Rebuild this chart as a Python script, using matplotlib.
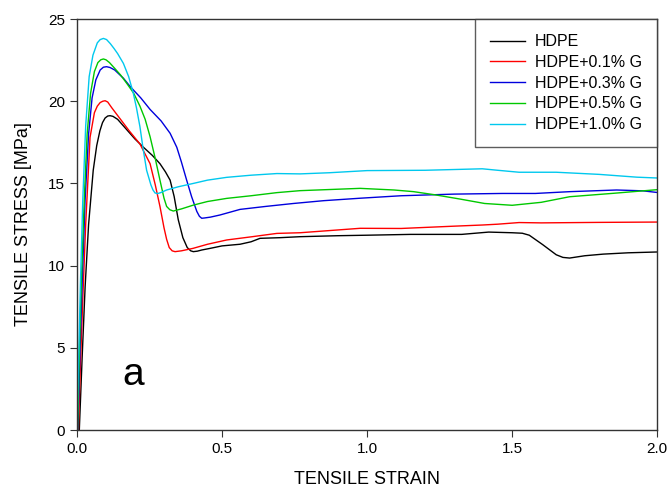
import matplotlib
matplotlib.use("Agg")
import matplotlib.pyplot as plt

# --------------------------------------------------
# Data
# --------------------------------------------------

hdpe_strain = [0.008, 0.018, 0.028, 0.04, 0.056, 0.068, 0.079, 0.088, 0.097, 0.106,
               0.114, 0.124, 0.14, 0.17,
               0.2, 0.229, 0.26, 0.286, 0.305, 0.321, 0.335, 0.349, 0.365, 0.38,
               0.392, 0.401, 0.415, 0.43, 0.459, 0.5, 0.562, 0.6, 0.631, 0.7, 0.769, 0.9, 1.0,
               1.15, 1.326, 1.419, 1.5, 1.535, 1.559, 1.605, 1.652, 1.675, 1.698, 1.75,
               1.814, 1.9, 2.0]
hdpe_stress = [0, 4.5, 8.7, 12.5, 15.8, 17.3, 18.2, 18.7, 18.98, 19.1,
               19.12, 19.08, 18.9, 18.3,
               17.7, 17.2, 16.7, 16.2, 15.7, 15.2, 14.2, 12.8, 11.7, 11.1,
               10.9, 10.85, 10.88, 10.95, 11.05, 11.2, 11.3, 11.45, 11.66, 11.7, 11.76, 11.82, 11.85,
               11.9, 11.9, 12.04, 12.0, 11.97, 11.85, 11.28, 10.66, 10.5, 10.46, 10.6,
               10.7, 10.78, 10.83]

g01_strain = [0.005, 0.012, 0.02, 0.03, 0.045, 0.06, 0.07, 0.08, 0.089, 0.097, 0.106,
              0.12, 0.15, 0.18, 0.217, 0.252, 0.27, 0.286, 0.3, 0.309, 0.318, 0.328,
              0.338, 0.36, 0.4, 0.45, 0.516, 0.6, 0.689, 0.769, 0.976, 1.117, 1.3,
              1.397, 1.45, 1.524, 1.6, 1.8, 2.0]
g01_stress = [0, 4, 8, 12.5, 17.8, 19.3, 19.7, 19.92, 20.0, 20.03, 19.95,
              19.6, 18.9, 18.2, 17.4, 16.2, 14.9, 13.6, 12.3, 11.6, 11.1, 10.9,
              10.85, 10.9, 11.05, 11.3, 11.56, 11.75, 11.96, 12.0, 12.27, 12.26, 12.4,
              12.47, 12.52, 12.62, 12.6, 12.63, 12.65]

g03_strain = [0.003, 0.01, 0.018, 0.028, 0.04, 0.052, 0.065, 0.08, 0.091, 0.102,
              0.114, 0.13, 0.16, 0.183, 0.22, 0.252, 0.29, 0.321, 0.344, 0.36,
              0.378, 0.395, 0.413, 0.422, 0.43, 0.44, 0.46, 0.493, 0.562, 0.65,
              0.746, 0.85, 0.976, 1.117, 1.3, 1.466, 1.58, 1.7, 1.86, 1.95, 2.0]
g03_stress = [0, 4.5, 9, 14, 18, 20.2, 21.3, 21.9, 22.07, 22.1,
              22.05, 21.9, 21.4, 20.9, 20.2, 19.5, 18.8, 18.05, 17.2, 16.3,
              15.2, 14.2, 13.3, 13.0, 12.88, 12.9, 12.95, 13.08, 13.42, 13.6,
              13.78, 13.95, 14.1, 14.25, 14.35, 14.39, 14.39, 14.5, 14.6, 14.55, 14.45]

g05_strain = [0.002, 0.008, 0.015, 0.025, 0.035, 0.047, 0.06, 0.072, 0.082, 0.091,
              0.1, 0.112, 0.13, 0.15, 0.171, 0.195, 0.217, 0.235, 0.252, 0.27,
              0.286, 0.3, 0.309, 0.32, 0.332, 0.36, 0.401, 0.45, 0.516, 0.6,
              0.689, 0.769, 0.976, 1.093, 1.16, 1.233, 1.32, 1.405, 1.5, 1.6,
              1.698, 1.85, 2.0]
g05_stress = [0, 4.5, 9, 14, 18, 20.5, 21.8, 22.35, 22.52, 22.57,
              22.52, 22.35, 22.0, 21.6, 21.1, 20.5, 19.7, 18.9, 17.84, 16.5,
              15.2, 14.1, 13.6, 13.4, 13.32, 13.45, 13.68, 13.9, 14.09, 14.25,
              14.44, 14.56, 14.7, 14.6, 14.5, 14.31, 14.05, 13.78, 13.67, 13.85,
              14.19, 14.4, 14.62]

g10_strain = [0.0, 0.006, 0.012, 0.02, 0.03, 0.042, 0.055, 0.07, 0.08, 0.091,
              0.102, 0.115, 0.128, 0.14, 0.16, 0.178, 0.194, 0.205, 0.217, 0.228,
              0.24, 0.255, 0.262, 0.269, 0.278, 0.29, 0.309, 0.35, 0.401, 0.45,
              0.516, 0.6, 0.689, 0.769, 0.87, 1.0, 1.2, 1.397, 1.45, 1.524,
              1.652, 1.8, 1.93, 2.0]
g10_stress = [0, 4.5, 9, 14, 18.5, 21.5, 22.8, 23.55, 23.75, 23.82,
              23.75, 23.5, 23.2, 22.9, 22.3, 21.5, 20.5, 19.6, 18.45, 17.1,
              15.8, 14.9, 14.6, 14.42, 14.38, 14.45, 14.6, 14.8, 15.0, 15.2,
              15.37, 15.5, 15.6, 15.58, 15.65, 15.78, 15.8, 15.89, 15.8, 15.68,
              15.68, 15.55, 15.38, 15.33]

labels = ["HDPE", "HDPE+0.1% G", "HDPE+0.3% G", "HDPE+0.5% G", "HDPE+1.0% G"]
colors = ["#000000", "#ff0000", "#0000dd", "#00c800", "#00c8ee"]

x_ticks = [0.0, 0.5, 1.0, 1.5, 2.0]
y_ticks = [0, 5, 10, 15, 20, 25]

# --------------------------------------------------
# Figure
# --------------------------------------------------

plt.rcParams["font.family"] = ["Liberation Sans", "DejaVu Sans"]

fig = plt.figure(figsize=(6.7, 4.98), dpi=100)
ax = fig.add_axes([0.1149, 0.1365, 0.866, 0.8253])

series = [
    (hdpe_strain, hdpe_stress),
    (g01_strain, g01_stress),
    (g03_strain, g03_stress),
    (g05_strain, g05_stress),
    (g10_strain, g10_stress),
]

for (xs, ys), label, color in zip(series, labels, colors):
    ax.plot(xs, ys, color=color, lw=1.0, label=label, solid_joinstyle="round")

ax.set_xlim(0, 2.0)
ax.set_ylim(0, 25)
ax.set_xticks(x_ticks)
ax.set_xticklabels([f"{t:.1f}" for t in x_ticks])
ax.set_yticks(y_ticks)

ax.tick_params(direction="out", length=5, width=0.8, labelsize=11, color="#333333")

for spine in ax.spines.values():
    spine.set_color("#333333")
    spine.set_linewidth(1.0)

ax.set_xlabel("TENSILE STRAIN", fontsize=13, labelpad=11)
ax.set_ylabel("TENSILE STRESS [MPa]", fontsize=13, labelpad=12)

ax.text(0.193, 2.74, "a", fontsize=28, ha="center", va="baseline")

legend = ax.legend(
    loc="upper right",
    borderaxespad=0,
    fontsize=11.5,
    frameon=True,
    fancybox=False,
    handlelength=2.2,
    handletextpad=0.6,
    labelspacing=0.36,
    borderpad=0.95,
)
legend.get_frame().set_edgecolor("#333333")
legend.get_frame().set_linewidth(1.0)

fig.savefig("out.png", dpi=100)
